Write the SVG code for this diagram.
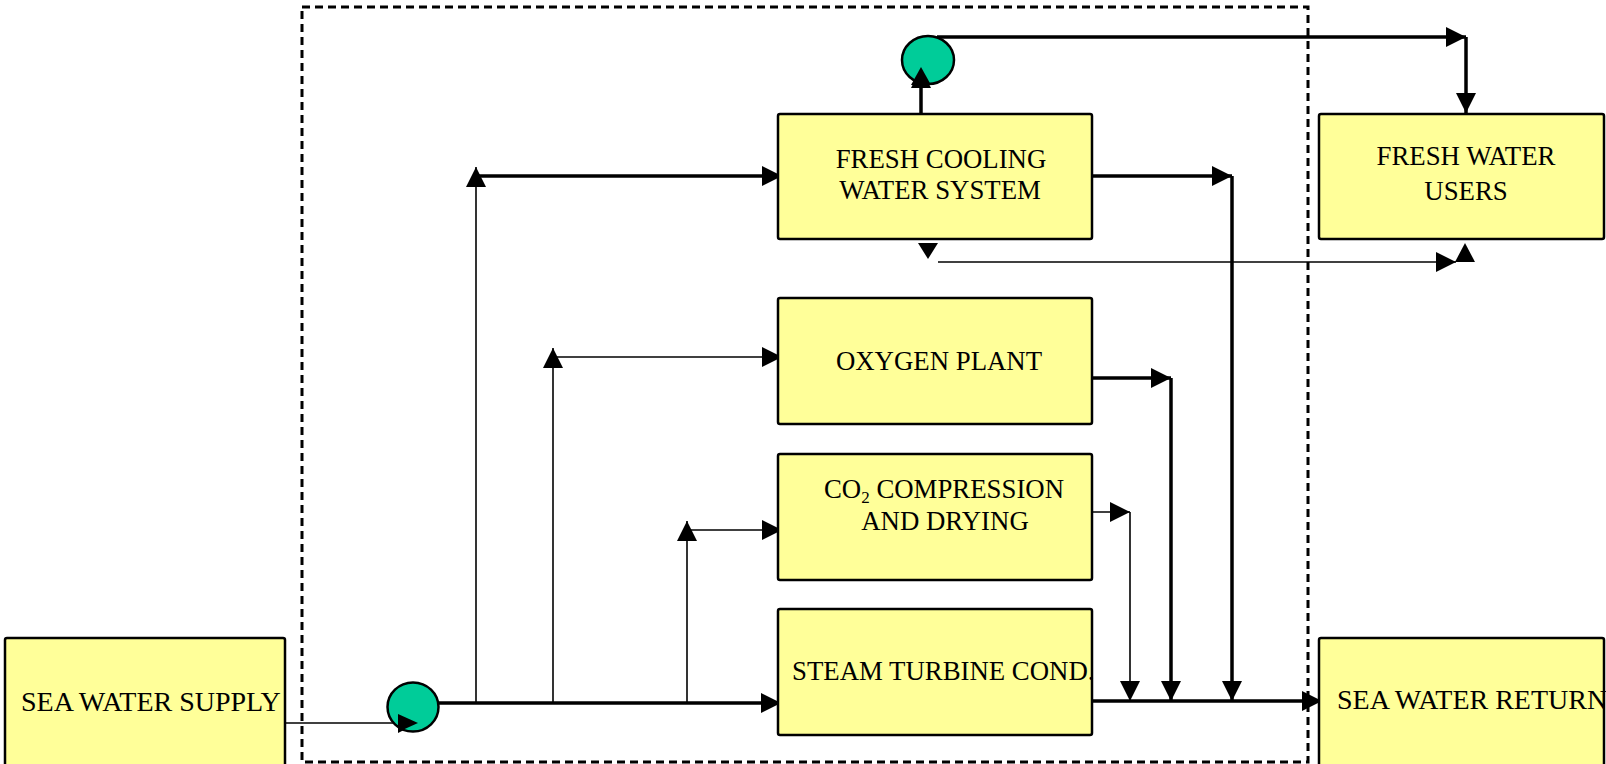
<svg xmlns="http://www.w3.org/2000/svg" width="1606" height="764" viewBox="0 0 1606 764">
<style>
.box{fill:#FFFF99;stroke:#000;stroke-width:2.5}
.pump{fill:#00CC99;stroke:#000;stroke-width:2.5}
.lbl{font-family:"Liberation Serif","Times New Roman",serif;font-size:26.8px;fill:#000}
.big{font-size:28px}
.thick{fill:none;stroke:#000;stroke-width:3.5}
.thin{fill:none;stroke:#000;stroke-width:1.6}
.head{fill:#000;stroke:none}
</style>
<defs>
<marker id="ah" markerUnits="userSpaceOnUse" viewBox="0 0 20 20" refX="20" refY="10" markerWidth="20" markerHeight="20" orient="auto">
<path d="M0,0 L20,10 L0,20 z" fill="#000"/>
</marker>
</defs>
<rect x="302" y="7" width="1006" height="755" fill="none" stroke="#000" stroke-width="3" stroke-dasharray="8,5"/>
<g id="connectors">
<line class="thin" x1="285" y1="723" x2="418" y2="723" marker-end="url(#ah)"/>
<line class="thick" x1="438" y1="703" x2="781" y2="703" marker-end="url(#ah)"/>
<line class="thin" x1="476" y1="703" x2="476" y2="167" marker-end="url(#ah)"/>
<line class="thick" x1="476" y1="176" x2="782" y2="176" marker-end="url(#ah)"/>
<line class="thin" x1="553" y1="703" x2="553" y2="348" marker-end="url(#ah)"/>
<line class="thin" x1="553" y1="357" x2="782" y2="357" marker-end="url(#ah)"/>
<line class="thin" x1="687" y1="703" x2="687" y2="521" marker-end="url(#ah)"/>
<line class="thin" x1="687" y1="530" x2="782" y2="530" marker-end="url(#ah)"/>
<line class="thick" x1="1092" y1="176" x2="1232" y2="176" marker-end="url(#ah)"/>
<line class="thick" x1="1232" y1="176" x2="1232" y2="701" marker-end="url(#ah)"/>
<line class="thick" x1="1092" y1="378" x2="1171" y2="378" marker-end="url(#ah)"/>
<line class="thick" x1="1171" y1="378" x2="1171" y2="701" marker-end="url(#ah)"/>
<line class="thin" x1="1092" y1="512" x2="1130" y2="512" marker-end="url(#ah)"/>
<line class="thin" x1="1130" y1="512" x2="1130" y2="701" marker-end="url(#ah)"/>
<line class="thick" x1="1092" y1="701" x2="1322" y2="701" marker-end="url(#ah)"/>
<line class="thick" x1="921" y1="114" x2="921" y2="68" marker-end="url(#ah)"/>
<line class="thick" x1="937" y1="37" x2="1466" y2="37" marker-end="url(#ah)"/>
<line class="thick" x1="1466" y1="37" x2="1466" y2="113" marker-end="url(#ah)"/>
<line class="thin" x1="938" y1="262" x2="1456" y2="262" marker-end="url(#ah)"/>
<path class="head" d="M918,243 L938,243 L928,259 z"/>
<path class="head" d="M1455,262 L1475,262 L1465,243 z"/>
</g>
<g id="sea-water-supply">
<rect class="box" x="5" y="638" width="280" height="140" rx="2"/>
<text class="lbl big" x="21" y="711">SEA WATER SUPPLY</text>
</g>
<g id="pump-main">
<ellipse class="pump" cx="413" cy="707" rx="25.5" ry="24.5"/>
<path class="head" d="M398,714 L418,723 L398,732 z"/>
</g>
<g id="pump-fresh">
<ellipse class="pump" cx="928" cy="60" rx="26" ry="24"/>
<path class="head" d="M911,85 L921,67 L931,85 z"/>
</g>
<g id="fresh-cooling">
<rect class="box" x="778" y="114" width="314" height="125" rx="2"/>
<text class="lbl" x="941" y="168" text-anchor="middle">FRESH COOLING</text>
<text class="lbl" x="940" y="199" text-anchor="middle">WATER SYSTEM</text>
</g>
<g id="oxygen-plant">
<rect class="box" x="778" y="298" width="314" height="126" rx="2"/>
<text class="lbl" x="939" y="370" text-anchor="middle">OXYGEN PLANT</text>
</g>
<g id="co2-compression">
<rect class="box" x="778" y="454" width="314" height="126" rx="2"/>
<text class="lbl" x="944" y="498" text-anchor="middle">CO<tspan font-size="17" dy="5">2</tspan><tspan dy="-5"> COMPRESSION</tspan></text>
<text class="lbl" x="945" y="530" text-anchor="middle">AND DRYING</text>
</g>
<g id="steam-turbine">
<rect class="box" x="778" y="609" width="314" height="126" rx="2"/>
<text class="lbl" x="792" y="680">STEAM TURBINE COND.</text>
</g>
<g id="fresh-water-users">
<rect class="box" x="1319" y="114" width="285" height="125" rx="2"/>
<text class="lbl" x="1466" y="165" text-anchor="middle">FRESH WATER</text>
<text class="lbl" x="1466" y="200" text-anchor="middle">USERS</text>
</g>
<g id="sea-water-return">
<rect class="box" x="1319" y="638" width="285" height="140" rx="2"/>
<text class="lbl big" x="1337" y="709">SEA WATER RETURN</text>
</g>
</svg>
